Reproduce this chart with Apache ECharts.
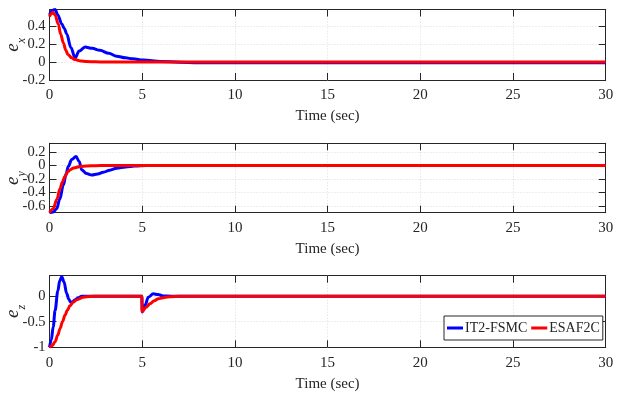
<!DOCTYPE html>
<html>
<head>
<meta charset="utf-8">
<script src="https://cdn.jsdelivr.net/npm/echarts@6/dist/echarts.min.js"></script>
<style>
  html, body { margin: 0; padding: 0; background: #fff; }
  #chart { width: 622px; height: 396px; }
</style>
</head>
<body>
<div id="chart"></div>
<script>
// Tracking errors of two controllers (IT2-FSMC vs ESAF2C)
const seriesNames = ['IT2-FSMC', 'ESAF2C'];
const xTicks = [0, 5, 10, 15, 20, 25, 30];

// e_x
const exTimeA = [0, 0.15, 0.3, 0.45, 0.66, 0.8, 0.93, 1.15, 1.38, 1.6, 1.92, 2.3, 2.72, 3.2, 3.62, 4.1, 4.5, 5.05, 6, 7, 8, 30];
const exValA  = [0.52, 0.57, 0.58, 0.52, 0.42, 0.37, 0.31, 0.16, 0.045, 0.12, 0.165, 0.15, 0.128, 0.095, 0.063, 0.045, 0.034, 0.02, 0.006, -0.004, -0.008, -0.008];
const exTimeB = [0, 0.08, 0.17, 0.3, 0.47, 0.6, 0.75, 0.88, 1.0, 1.2, 1.38, 1.7, 2.0, 2.5, 3, 30];
const exValB  = [0.5, 0.53, 0.55, 0.52, 0.42, 0.31, 0.21, 0.13, 0.08, 0.045, 0.026, 0.01, 0.004, 0.001, 0, 0];

// e_y
const eyTimeA = [0, 0.2, 0.39, 0.55, 0.75, 0.9, 1.01, 1.2, 1.43, 1.6, 1.74, 2.0, 2.28, 2.6, 2.9, 3.25, 3.62, 4.1, 4.6, 5.2, 30];
const eyValA  = [-0.7, -0.69, -0.64, -0.5, -0.29, -0.12, -0.015, 0.09, 0.134, 0.06, -0.065, -0.12, -0.14, -0.125, -0.10, -0.07, -0.04, -0.02, -0.008, 0, 0];
const eyTimeB = [0, 0.2, 0.4, 0.57, 0.7, 0.84, 1.0, 1.1, 1.3, 1.65, 2.0, 2.5, 3, 30];
const eyValB  = [-0.7, -0.64, -0.5, -0.34, -0.24, -0.16, -0.09, -0.065, -0.035, -0.015, -0.006, -0.002, 0, 0];

// e_z
const ezTimeA = [0, 0.1, 0.2, 0.3, 0.45, 0.55, 0.66, 0.78, 0.93, 1.04, 1.14, 1.25, 1.38, 1.55, 1.74, 2.0, 4.98, 5.0, 5.15, 5.33, 5.6, 5.85, 6.14, 6.6, 30];
const ezValA  = [-1, -0.85, -0.6, -0.28, 0.1, 0.3, 0.38, 0.28, 0.05, -0.06, -0.12, -0.11, -0.07, -0.03, 0, 0, 0, -0.31, -0.18, -0.02, 0.046, 0.03, 0.005, 0, 0];
const ezTimeB = [0, 0.15, 0.3, 0.45, 0.57, 0.7, 0.84, 0.97, 1.1, 1.28, 1.47, 1.82, 2.2, 2.6, 4.98, 5.0, 5.2, 5.42, 5.65, 5.87, 6.2, 6.5, 7, 30];
const ezValB  = [-1, -0.97, -0.89, -0.76, -0.63, -0.5, -0.37, -0.27, -0.19, -0.12, -0.07, -0.02, -0.006, 0, 0, -0.3, -0.22, -0.15, -0.09, -0.05, -0.025, -0.01, 0, 0];

// y-axis ranges and tick labels per panel
const exRange = [-0.2, 0.58], exTicks = [-0.2, 0, 0.2, 0.4];
const eyRange = [-0.7, 0.33], eyTicks = [-0.6, -0.4, -0.2, 0, 0.2];
const ezRange = [-1, 0.4],    ezTicks = [-1, -0.5, 0];

const panels = [
  { sub: 'x', range: exRange, ticks: exTicks, a: [exTimeA, exValA], b: [exTimeB, exValB] },
  { sub: 'y', range: eyRange, ticks: eyTicks, a: [eyTimeA, eyValA], b: [eyTimeB, eyValB] },
  { sub: 'z', range: ezRange, ticks: ezTicks, a: [ezTimeA, ezValA], b: [ezTimeB, ezValB] }
];

const FONT = 'Liberation Serif';
const INK = '#262626';
const GRIDLINE = { show: true, lineStyle: { color: '#dcdcdc', type: [1, 2], width: 1 } };
const gridBoxes = [
  { top: 9.5, height: 70.5 },
  { top: 143.3, height: 69.4 },
  { top: 275.7, height: 71.6 }
];

const pairs = (t, v) => t.map((x, i) => [x, v[i]]);
const tickLabel = (vals) => ({
  fontFamily: FONT, fontSize: 14.5, color: INK, margin: 4,
  hideOverlap: false, showMinLabel: true, showMaxLabel: true,
  customValues: vals, formatter: v => String(v)
});

const grid = [], xAxis = [], yAxis = [], series = [];
panels.forEach((p, i) => {
  grid.push({
    left: 49.5, right: 16.3, top: gridBoxes[i].top, height: gridBoxes[i].height,
    containLabel: false, outerBoundsMode: 'none'
  });
  // bottom time axis
  xAxis.push({
    type: 'value', gridIndex: i, min: 0, max: 30,
    name: 'Time (sec)', nameLocation: 'middle', nameGap: 29, nameMoveOverlap: false,
    nameTextStyle: { fontFamily: FONT, fontSize: 15, color: INK },
    axisLine: { onZero: false, lineStyle: { color: INK, width: 1 } },
    axisTick: { inside: true, length: 7, lineStyle: { color: INK }, customValues: xTicks },
    axisLabel: { fontFamily: FONT, fontSize: 15, color: INK, margin: 8, customValues: xTicks },
    splitLine: GRIDLINE
  });
  // top frame axis
  xAxis.push({
    type: 'value', gridIndex: i, position: 'top', min: 0, max: 30,
    axisLine: { onZero: false, lineStyle: { color: INK, width: 1 } },
    axisTick: { inside: true, length: 7, lineStyle: { color: INK }, customValues: xTicks },
    axisLabel: { show: false, customValues: xTicks }, splitLine: { show: false }
  });
  // closely spaced tick labels are split over two left axes so none get dropped
  const evenTicks = p.ticks.filter((_, k) => k % 2 === 0);
  const oddTicks = p.ticks.filter((_, k) => k % 2 === 1);
  yAxis.push({
    type: 'value', gridIndex: i, min: p.range[0], max: p.range[1],
    name: '{e|e}{s|' + p.sub + '}', nameLocation: 'middle', nameGap: 27, nameRotate: 90,
    nameMoveOverlap: false,
    nameTextStyle: {
      rich: {
        e: { fontFamily: FONT, fontStyle: 'italic', fontSize: 19, color: INK, verticalAlign: 'bottom', lineHeight: 20 },
        s: { fontFamily: FONT, fontStyle: 'italic', fontSize: 12, color: INK, verticalAlign: 'bottom', lineHeight: 20, padding: [0, 0, -5, 0] }
      }
    },
    axisLine: { show: true, onZero: false, lineStyle: { color: INK, width: 1 } },
    axisTick: { show: true, inside: true, length: 7, lineStyle: { color: INK }, customValues: p.ticks },
    axisLabel: tickLabel(evenTicks),
    splitLine: GRIDLINE
  });
  yAxis.push({
    type: 'value', gridIndex: i, position: 'right', min: p.range[0], max: p.range[1],
    axisLine: { show: true, onZero: false, lineStyle: { color: INK, width: 1 } },
    axisTick: { show: true, inside: true, length: 7, lineStyle: { color: INK }, customValues: p.ticks },
    axisLabel: { show: false, customValues: p.ticks }, splitLine: { show: false }
  });
  yAxis.push({
    type: 'value', gridIndex: i, position: 'left', min: p.range[0], max: p.range[1],
    axisLine: { show: false, onZero: false }, axisTick: { show: false, customValues: oddTicks },
    axisLabel: tickLabel(oddTicks), splitLine: { show: false }
  });
  [[p.a, '#0000ff', seriesNames[0]], [p.b, '#ff0000', seriesNames[1]]].forEach(([d, c, n]) => {
    series.push({
      type: 'line', name: n, xAxisIndex: 2 * i, yAxisIndex: 3 * i,
      data: pairs(d[0], d[1]), showSymbol: false, smooth: 0.35, smoothMonotone: 'x',
      lineStyle: { color: c, width: 3 }, itemStyle: { color: c }, animation: false
    });
  });
});

const chart = echarts.init(document.getElementById('chart'), null, { renderer: 'canvas' });
chart.setOption({
  animation: false,
  backgroundColor: '#fff',
  grid, xAxis, yAxis, series,
  legend: {
    data: seriesNames, left: 444, top: 316, orient: 'horizontal',
    icon: 'rect', itemWidth: 16, itemHeight: 3, itemGap: 4,
    padding: [5, 3], backgroundColor: '#fff', borderColor: INK, borderWidth: 1,
    textStyle: { fontFamily: FONT, fontSize: 14, color: INK, padding: [0, 0, 0, -3] }
  }
});
</script>
</body>
</html>
